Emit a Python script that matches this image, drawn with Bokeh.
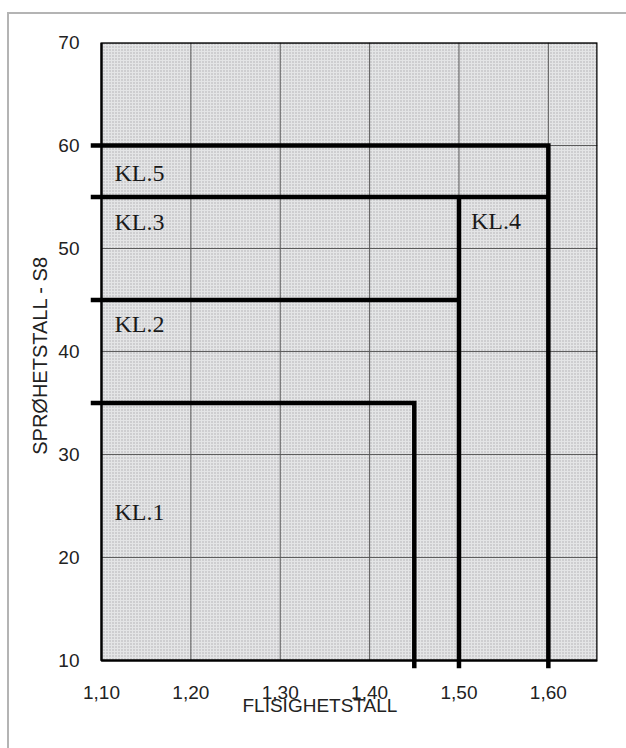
from bokeh.plotting import figure
from bokeh.models import Range1d, FixedTicker, Label, Title, InlineStyleSheet
from bokeh.embed import file_html
from bokeh.resources import INLINE

# ---- data ----
x_ticks = [1.10, 1.20, 1.30, 1.40, 1.50, 1.60]
x_tick_labels = ["1,10", "1,20", "1,30", "1,40", "1,50", "1,60"]
y_ticks = [10, 20, 30, 40, 50, 60, 70]
x_start, x_end = 1.10, 1.655
y_start, y_end = 10, 70

# class boundary polylines (x, y)
boundary_kl1_x = [1.0877, 1.45, 1.45]
boundary_kl1_y = [35, 35, 9.22]
boundary_kl2_x = [1.0877, 1.50]
boundary_kl2_y = [45, 45]
boundary_kl3_x = [1.0877, 1.60]
boundary_kl3_y = [55, 55]
boundary_kl4_x = [1.50, 1.50]
boundary_kl4_y = [55, 9.22]
boundary_kl5_x = [1.0877, 1.60, 1.60]
boundary_kl5_y = [60, 60, 9.22]

class_names = ["KL.5", "KL.3", "KL.2", "KL.1", "KL.4"]
class_x = [1.1145, 1.1145, 1.1145, 1.1145, 1.5135]
class_y = [57.3, 52.6, 42.7, 24.4, 52.7]

x_title = "FLISIGHETSTALL"
y_title = "SPRØHETSTALL - S8"

p = figure(frame_width=507, frame_height=626,
           min_border_left=90, min_border_right=13, min_border_top=42, min_border_bottom=64,
           x_range=Range1d(1.0877, x_end), y_range=Range1d(9.22, y_end),
           output_backend="svg", toolbar_location=None)
p.outline_line_color = None
p.xgrid.visible = False
p.ygrid.visible = False
p.background_fill_color = "white"
p.border_fill_color = "white"
p.stylesheets = [InlineStyleSheet(css=(
    ":host { position: relative; }"
    ":host::after { content: ''; position: absolute; left: 7px; top: 12px;"
    " right: -20px; bottom: -20px; border-left: 2px solid #b4b4b4;"
    " border-top: 2px solid #b4b4b4; pointer-events: none; }"))]

# grey plotting area
p.quad(left=[x_start], right=[x_end], bottom=[y_start], top=[y_end],
       fill_color="#e4e5e6", line_color=None,
       hatch_pattern=".", hatch_color="#acadae", hatch_scale=3, hatch_weight=1)

# grid lines
p.segment(x0=x_ticks, x1=x_ticks, y0=[y_start] * len(x_ticks), y1=[y_end] * len(x_ticks),
          line_color="#5a5a5a", line_width=1)
p.segment(x0=[x_start] * len(y_ticks), x1=[x_end] * len(y_ticks), y0=y_ticks, y1=y_ticks,
          line_color="#5a5a5a", line_width=1)

# frame border
p.quad(left=[x_start], right=[x_end], bottom=[y_start], top=[y_end],
       fill_color=None, line_color="black", line_width=2.5)

# class boundaries
for bx, by in [(boundary_kl1_x, boundary_kl1_y), (boundary_kl2_x, boundary_kl2_y),
               (boundary_kl3_x, boundary_kl3_y), (boundary_kl4_x, boundary_kl4_y),
               (boundary_kl5_x, boundary_kl5_y)]:
    p.line(bx, by, line_color="black", line_width=4.5, line_join="miter")

# class labels
for name, cx, cy in zip(class_names, class_x, class_y):
    p.add_layout(Label(x=cx, y=cy, text=name, text_font="Liberation Serif",
                       text_font_size="24px", text_color="#1a1a1a",
                       text_align="left", text_baseline="middle"))

# axes
for ax in (p.xaxis, p.yaxis):
    ax.axis_line_color = None
    ax.major_tick_line_color = None
    ax.minor_tick_line_color = None
    ax.major_label_text_font = "Liberation Sans"
    ax.major_label_text_font_size = "19px"
    ax.major_label_text_color = "#222222"

p.xaxis.ticker = FixedTicker(ticks=x_ticks)
p.xaxis.major_label_overrides = {t: l for t, l in zip(x_ticks, x_tick_labels)}
p.xaxis.major_label_standoff = 11
p.yaxis.ticker = FixedTicker(ticks=y_ticks)
p.yaxis.major_label_standoff = 5

p.add_layout(Title(text=x_title, align="left", offset=152, standoff=-17,
                   text_font="Liberation Sans", text_font_size="19px",
                   text_font_style="normal", text_color="#222222"), "below")
p.add_layout(Title(text=y_title, align="center", offset=22, standoff=10,
                   text_font="Liberation Sans", text_font_size="20px",
                   text_font_style="normal", text_color="#222222"), "left")

open("out.html", "w").write(file_html(p, INLINE))
